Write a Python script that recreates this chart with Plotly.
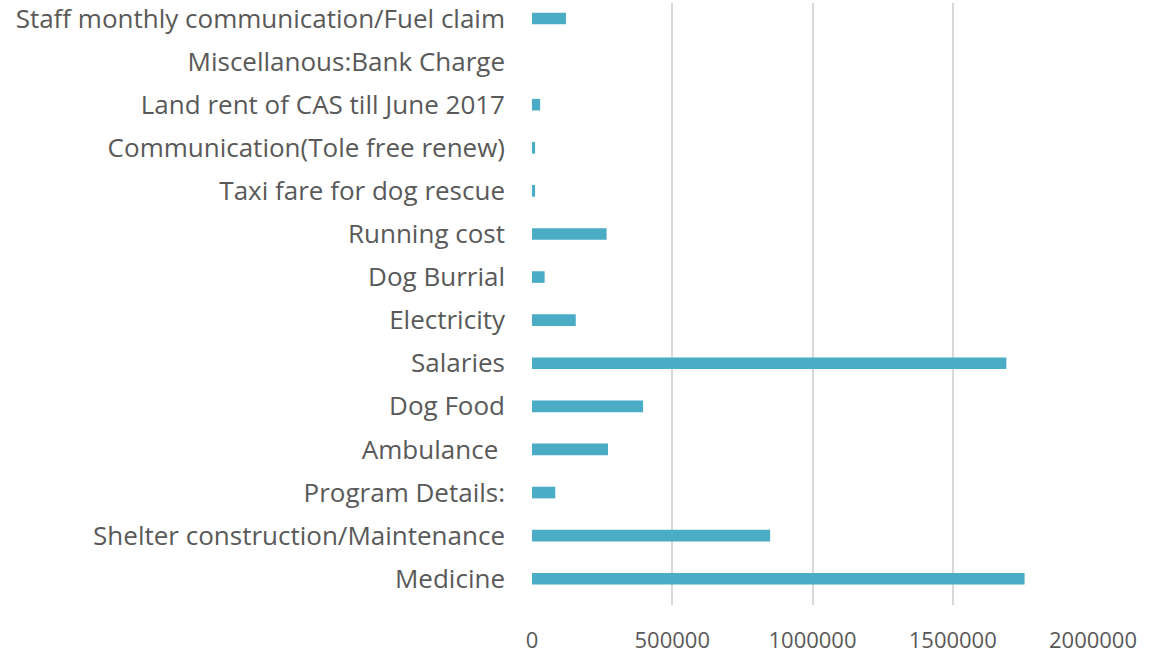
import plotly.graph_objects as go

categories = [
    "Medicine",
    "Shelter construction/Maintenance",
    "Program Details:",
    "Ambulance\u00a0",
    "Dog Food",
    "Salaries",
    "Electricity",
    "Dog Burrial",
    "Running cost",
    "Taxi fare for dog rescue",
    "Communication(Tole free renew)",
    "Land rent of CAS till June 2017",
    "Miscellanous:Bank Charge",
    "Staff monthly communication/Fuel claim",
]
values = [1756000, 849000, 83000, 271000, 396000, 1691000, 156000, 45000,
          266000, 11000, 11000, 29000, 0, 121000]
x_ticks = [0, 500000, 1000000, 1500000, 2000000]
x_tick_labels = ["0", "500000", "1000000", "1500000", "2000000"]

fig = go.Figure(go.Bar(
    y=list(range(len(categories))),
    x=values,
    orientation="h",
    width=0.27,
    marker=dict(color="#4BACC6", line=dict(width=0)),
))

yfont = dict(family="Open Sans", size=26, color="#595959")
xfont = dict(family="Open Sans", size=22, color="#595959")

fig.update_layout(
    width=1160, height=660,
    margin=dict(l=532, r=67, t=3, b=55, autoexpand=False),
    paper_bgcolor="white", plot_bgcolor="white",
    showlegend=False,
    font=yfont,
    xaxis=dict(
        range=[0, 2000000],
        tickvals=x_ticks, ticktext=x_tick_labels,
        showgrid=True, gridcolor="#d9d9d9", gridwidth=2,
        zeroline=False, showline=False, ticks="",
        ticklabelstandoff=20, ticklabeloverflow="allow",
        tickfont=xfont,
    ),
    yaxis=dict(
        range=[-0.61, 13.36],
        tickvals=list(range(len(categories))), ticktext=categories,
        showgrid=False, zeroline=False, showline=False, ticks="",
        ticklabelstandoff=26, ticklabeloverflow="allow",
        tickfont=yfont,
    ),
)

fig.write_html("out.html", config={"displayModeBar": False},
               post_script="document.body.style.margin='0';")
